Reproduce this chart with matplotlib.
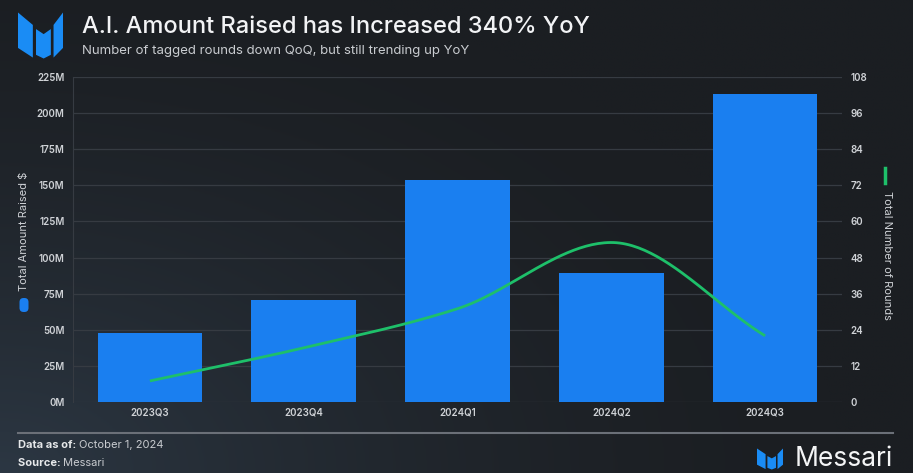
import matplotlib
matplotlib.use("Agg")
import matplotlib.pyplot as plt
from matplotlib.patches import Polygon, FancyBboxPatch
from matplotlib.ticker import FuncFormatter
import numpy as np

quarters = ["2023Q3", "2023Q4", "2024Q1", "2024Q2", "2024Q3"]
amount_raised = [47.5, 70.8, 153.7, 89.5, 213.3]   # $M
rounds = [7, 18, 31, 53, 22]

W, H = 913, 473
BG = "#1c1f24"
BAR = "#1a7ff0"
GREEN = "#1ec06a"
GRID = "#363b42"
TICK = "#cfd2d6"

plt.rcParams['font.family'] = ['Inter', 'DejaVu Sans']


def monotone(x, y, n=200):
    # Fritsch-Carlson monotone cubic, only used to draw a smooth line
    x = np.asarray(x, float); y = np.asarray(y, float)
    h = np.diff(x); d = np.diff(y) / h
    m = np.zeros_like(y)
    m[0], m[-1] = d[0], d[-1]
    for i in range(1, len(y) - 1):
        if d[i - 1] * d[i] <= 0:
            m[i] = 0
        else:
            w1 = 2 * h[i] + h[i - 1]; w2 = h[i] + 2 * h[i - 1]
            m[i] = (w1 + w2) / (w1 / d[i - 1] + w2 / d[i])
    xs = np.linspace(x[0], x[-1], n)
    idx = np.clip(np.searchsorted(x, xs) - 1, 0, len(x) - 2)
    t = (xs - x[idx]) / h[idx]
    h00 = 2*t**3 - 3*t**2 + 1; h10 = t**3 - 2*t**2 + t
    h01 = -2*t**3 + 3*t**2; h11 = t**3 - t**2
    ys = h00*y[idx] + h10*h[idx]*m[idx] + h01*y[idx+1] + h11*h[idx]*m[idx+1]
    return xs, ys


def px(x, y):
    return x / W, 1 - y / H


def logo(fig, x0, y0, w, h):
    # messari mark, unit shapes scaled into the pixel box
    shapes = [
        [(0, 0), (0.33, 0.27), (0.33, 0.98), (0, 0.77)],
        [(0.40, 0.36), (0.57, 0.47), (0.73, 0.36), (0.73, 0.92), (0.57, 1.0), (0.40, 0.92)],
        [(0.79, 0.27), (1.0, 0.0), (1.0, 0.77), (0.79, 0.98)],
    ]
    for s in shapes:
        pts = [px(x0 + a * w, y0 + b * h) for a, b in s]
        fig.patches.append(Polygon(pts, closed=True, transform=fig.transFigure,
                                   facecolor="#1a8cf5", edgecolor="none"))


def two_part(fig, x0, y0, bold, rest, size):
    t = fig.text(*px(x0, y0), bold, color="#e6e8ea", fontsize=size,
                 fontweight="bold", ha="left", va="center")
    bb = t.get_window_extent(renderer=fig.canvas.get_renderer())
    fig.text(bb.x1 / W, 1 - y0 / H, rest, color="#c9ccd0", fontsize=size,
             ha="left", va="center")


fig = plt.figure(figsize=(W / 100, H / 100), dpi=100)
fig.patch.set_facecolor(BG)

# background glow towards bottom-left
bg = fig.add_axes([0, 0, 1, 1], zorder=-10)
gx, gy = np.meshgrid(np.linspace(0, 1, 300), np.linspace(0, 1, 160))
r = np.sqrt((gx * 1.2) ** 2 + (gy * 1.0) ** 2)
glow = np.clip(1 - r / 1.1, 0, 1) ** 1.6
c0 = np.array([0x1b, 0x1e, 0x22]) / 255
c1 = np.array([0x2c, 0x37, 0x43]) / 255
img = c0 + (c1 - c0) * glow[..., None]
bg.imshow(img, origin="lower", extent=[0, 1, 0, 1], aspect="auto")
bg.axis("off")

ax = fig.add_axes([73 / W, 1 - 402 / H, 769 / W, 325 / H])
ax.set_facecolor("none")
x = np.arange(len(quarters))
ax.bar(x, amount_raised, width=0.68, color=BAR, zorder=3)
ax.set_xlim(-0.5, len(quarters) - 0.5)
ax.set_ylim(0, 225)
ax.set_yticks(np.arange(0, 226, 25))
ax.yaxis.set_major_formatter(FuncFormatter(lambda v, p: f"{int(v)}M"))
ax.set_xticks(x)
ax.set_xticklabels(quarters)
ax.grid(axis="y", color=GRID, lw=0.9, zorder=0)
for s in ["top", "right", "bottom"]:
    ax.spines[s].set_visible(False)
ax.spines["left"].set_color(GRID)
ax.tick_params(axis="both", length=0, colors=TICK, labelsize=7)
ax.tick_params(axis="y", pad=6)
ax.tick_params(axis="x", pad=4)
for lab in ax.get_xticklabels() + ax.get_yticklabels():
    lab.set_fontweight("semibold")

ax2 = ax.twinx()
xs, ys = monotone(x, rounds)
ax2.plot(xs, ys, color=GREEN, lw=2, zorder=4, solid_capstyle="butt")
ax2.set_ylim(0, 108)
ax2.set_yticks(np.arange(0, 109, 12))
for s in ax2.spines.values():
    s.set_visible(False)
ax2.tick_params(axis="y", length=0, colors=TICK, labelsize=7, pad=6)
for lab in ax2.get_yticklabels():
    lab.set_fontweight("semibold")

# axis "legends"
fig.text(*px(24, 231), "Total Amount Raised $", rotation=90, ha="center", va="center",
         color=TICK, fontsize=8)
fig.patches.append(FancyBboxPatch(px(19.5, 312), 9 / W, 14 / H,
                                  boxstyle="round,pad=0,rounding_size=0.0045",
                                  transform=fig.transFigure, facecolor=BAR, edgecolor="none",
                                  mutation_aspect=W / H))
fig.text(*px(887, 255), "Total Number of Rounds", rotation=-90, ha="center", va="center",
         color=TICK, fontsize=8)
fig.lines.append(plt.Line2D([885 / W, 885 / W], [1 - 168 / H, 1 - 183 / H], color=GREEN,
                            lw=2.5, transform=fig.transFigure))

# header
logo(fig, 18, 12.5, 45, 46)
fig.text(*px(82, 27), "A.I. Amount Raised has Increased 340% YoY", color="#f2f3f5",
         fontsize=17, fontweight="medium", ha="left", va="center")
fig.text(*px(82, 51), "Number of tagged rounds down QoQ, but still trending up YoY",
         color="#c9ccd0", fontsize=9.5, ha="left", va="center")

# footer
fig.lines.append(plt.Line2D([18 / W, 893 / W], [1 - 432.5 / H] * 2, color="#6b7078",
                            lw=1.5, transform=fig.transFigure))
two_part(fig, 18, 445, "Data as of: ", "October 1, 2024", 8)
two_part(fig, 18, 463, "Source: ", "Messari", 8)
logo(fig, 757, 448.5, 26, 21)
fig.text(*px(893, 459), "Messari", color="#f4f5f6", fontsize=19, ha="right", va="center")

fig.savefig("out.png", dpi=100, facecolor=fig.get_facecolor())
